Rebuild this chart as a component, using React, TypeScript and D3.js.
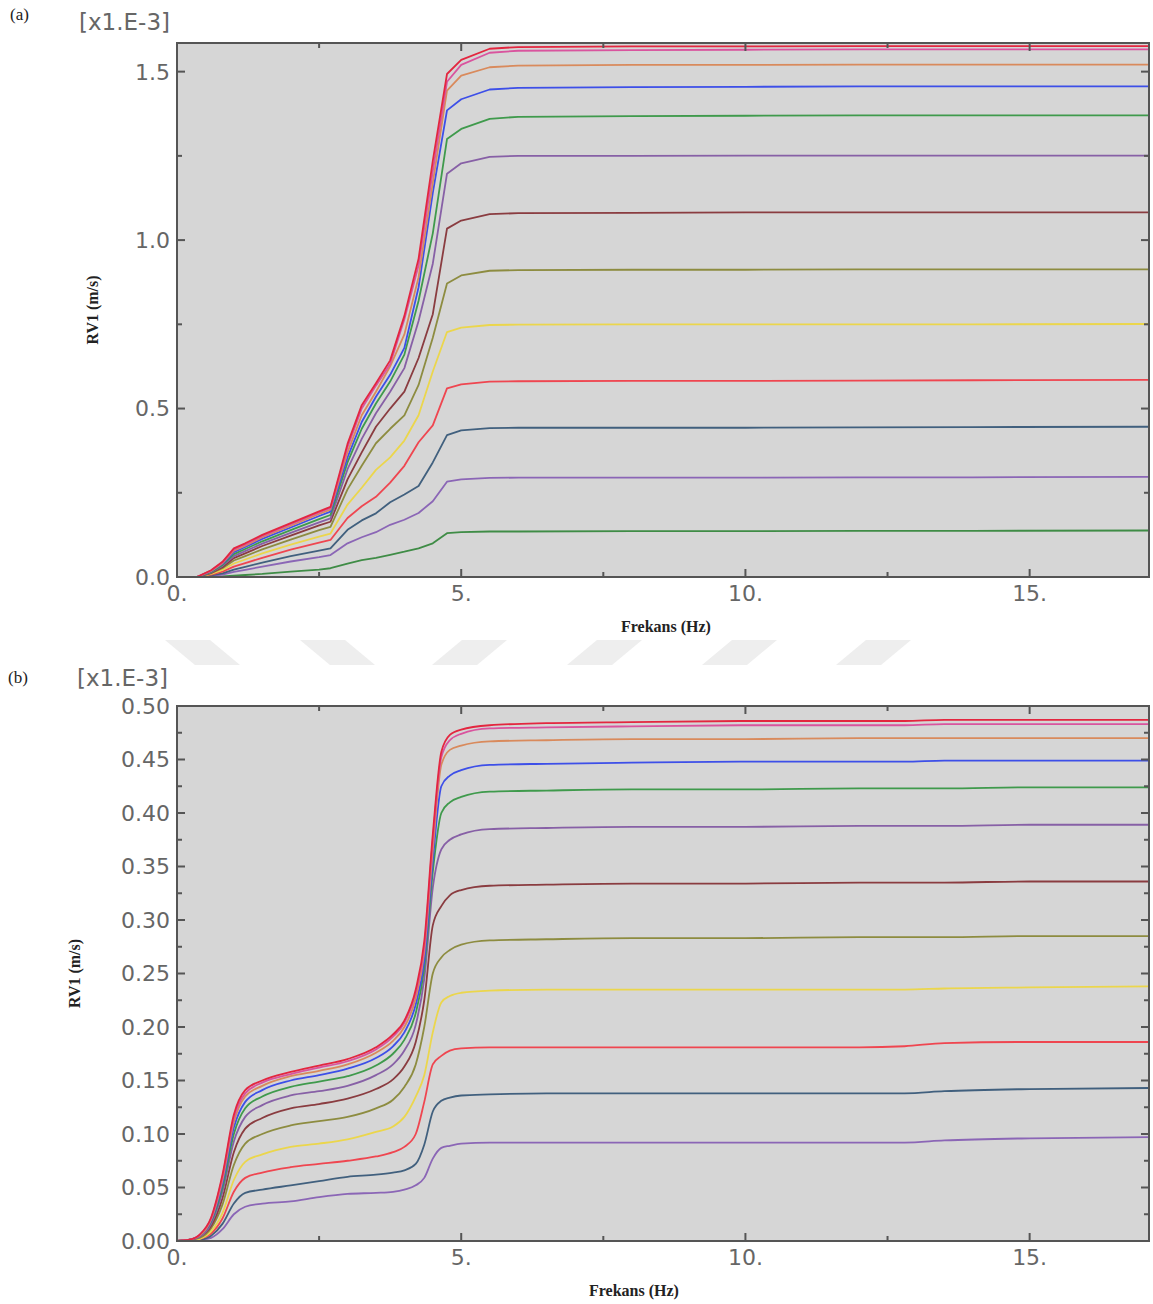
import React from 'react';
import * as d3 from 'd3';

const W = 1153;
const H = 1304;

// ---- panel (a) ----
const freqA = [0, 0.35, 0.6, 0.8, 1.0, 1.2, 1.5, 2.0, 2.5, 2.7, 3.0, 3.25, 3.5, 3.75, 4.0, 4.25, 4.5, 4.75, 5.0, 5.5, 6, 8, 10, 12, 14, 17.1];

const a1 = [0, 0, 0.02, 0.045, 0.085, 0.10, 0.125, 0.16, 0.195, 0.208, 0.395, 0.51, 0.575, 0.643, 0.775, 0.945, 1.235, 1.493, 1.535, 1.568, 1.573, 1.575, 1.575, 1.576, 1.576, 1.576];
const a2 = [0, 0, 0.019, 0.043, 0.082, 0.097, 0.122, 0.157, 0.192, 0.205, 0.385, 0.50, 0.568, 0.632, 0.765, 0.925, 1.205, 1.47, 1.52, 1.556, 1.562, 1.564, 1.565, 1.566, 1.566, 1.566];
const a3 = [0, 0, 0.018, 0.041, 0.078, 0.093, 0.118, 0.152, 0.187, 0.200, 0.37, 0.48, 0.55, 0.625, 0.72, 0.89, 1.17, 1.444, 1.488, 1.513, 1.518, 1.52, 1.52, 1.521, 1.521, 1.521];
const a4 = [0, 0, 0.017, 0.039, 0.074, 0.089, 0.113, 0.147, 0.181, 0.194, 0.355, 0.46, 0.535, 0.60, 0.68, 0.86, 1.14, 1.385, 1.418, 1.447, 1.452, 1.454, 1.455, 1.456, 1.456, 1.456];
const a5 = [0, 0, 0.015, 0.036, 0.068, 0.083, 0.106, 0.139, 0.172, 0.184, 0.34, 0.44, 0.515, 0.58, 0.66, 0.82, 1.02, 1.30, 1.33, 1.36, 1.366, 1.368, 1.369, 1.37, 1.37, 1.37];
const a6 = [0, 0, 0.014, 0.033, 0.062, 0.077, 0.099, 0.131, 0.162, 0.174, 0.32, 0.41, 0.486, 0.55, 0.62, 0.76, 0.93, 1.197, 1.228, 1.247, 1.25, 1.25, 1.251, 1.251, 1.251, 1.251];
const a7 = [0, 0, 0.012, 0.029, 0.056, 0.070, 0.092, 0.123, 0.153, 0.164, 0.29, 0.37, 0.446, 0.50, 0.55, 0.65, 0.78, 1.034, 1.058, 1.077, 1.08, 1.081, 1.082, 1.082, 1.082, 1.082];
const a8 = [0, 0, 0.011, 0.026, 0.049, 0.062, 0.082, 0.111, 0.139, 0.149, 0.26, 0.33, 0.397, 0.44, 0.48, 0.57, 0.71, 0.871, 0.895, 0.909, 0.911, 0.912, 0.912, 0.913, 0.913, 0.913];
const a9 = [0, 0, 0.009, 0.021, 0.040, 0.052, 0.070, 0.096, 0.120, 0.129, 0.215, 0.265, 0.318, 0.355, 0.405, 0.48, 0.61, 0.727, 0.74, 0.748, 0.749, 0.75, 0.75, 0.75, 0.75, 0.751];
const a10 = [0, 0, 0.007, 0.016, 0.031, 0.041, 0.057, 0.081, 0.102, 0.110, 0.175, 0.21, 0.238, 0.28, 0.33, 0.40, 0.45, 0.56, 0.572, 0.58, 0.581, 0.582, 0.582, 0.583, 0.584, 0.585];
const a11 = [0, 0, 0.005, 0.011, 0.022, 0.030, 0.043, 0.062, 0.078, 0.085, 0.14, 0.168, 0.189, 0.222, 0.245, 0.27, 0.34, 0.421, 0.435, 0.442, 0.443, 0.443, 0.443, 0.444, 0.445, 0.446];
const a12 = [0, 0, 0.003, 0.007, 0.015, 0.021, 0.031, 0.046, 0.059, 0.065, 0.10, 0.118, 0.133, 0.155, 0.17, 0.19, 0.225, 0.283, 0.29, 0.294, 0.295, 0.295, 0.295, 0.296, 0.296, 0.297];
const a13 = [0, 0, 0.001, 0.002, 0.004, 0.006, 0.009, 0.016, 0.022, 0.026, 0.04, 0.05, 0.057, 0.066, 0.075, 0.085, 0.10, 0.13, 0.133, 0.135, 0.135, 0.136, 0.136, 0.137, 0.137, 0.138];

// ---- panel (b) ----
const freqB = [0, 0.2, 0.4, 0.6, 0.8, 1.0, 1.2, 1.5, 2.0, 2.5, 3.0, 3.5, 3.8, 4.0, 4.2, 4.35, 4.5, 4.65, 4.8, 5.0, 5.5, 6.5, 8, 10, 12, 12.8, 13.5, 15, 17.1];

const b1 = [0, 0.001, 0.006, 0.022, 0.062, 0.118, 0.141, 0.150, 0.158, 0.164, 0.170, 0.181, 0.193, 0.206, 0.235, 0.28, 0.38, 0.457, 0.473, 0.478, 0.482, 0.484, 0.485, 0.486, 0.486, 0.486, 0.487, 0.487, 0.487];
const b2 = [0, 0.001, 0.006, 0.021, 0.060, 0.115, 0.138, 0.148, 0.156, 0.162, 0.168, 0.179, 0.191, 0.204, 0.232, 0.275, 0.375, 0.452, 0.468, 0.474, 0.479, 0.480, 0.481, 0.482, 0.482, 0.482, 0.483, 0.483, 0.483];
const b3 = [0, 0.001, 0.005, 0.020, 0.057, 0.111, 0.135, 0.145, 0.154, 0.159, 0.165, 0.176, 0.187, 0.200, 0.227, 0.27, 0.365, 0.445, 0.459, 0.463, 0.467, 0.468, 0.469, 0.469, 0.470, 0.470, 0.470, 0.470, 0.470];
const b4 = [0, 0.001, 0.005, 0.019, 0.054, 0.106, 0.130, 0.141, 0.150, 0.155, 0.161, 0.171, 0.182, 0.195, 0.221, 0.262, 0.355, 0.425, 0.435, 0.440, 0.445, 0.446, 0.447, 0.448, 0.448, 0.448, 0.449, 0.449, 0.449];
const b5 = [0, 0.001, 0.005, 0.018, 0.050, 0.100, 0.124, 0.135, 0.144, 0.149, 0.154, 0.164, 0.175, 0.188, 0.213, 0.255, 0.345, 0.400, 0.410, 0.415, 0.420, 0.421, 0.422, 0.422, 0.423, 0.423, 0.423, 0.424, 0.424];
const b6 = [0, 0.001, 0.004, 0.016, 0.046, 0.093, 0.116, 0.127, 0.136, 0.140, 0.145, 0.155, 0.165, 0.178, 0.202, 0.245, 0.330, 0.366, 0.375, 0.380, 0.385, 0.386, 0.387, 0.387, 0.388, 0.388, 0.388, 0.389, 0.389];
const b7 = [0, 0.001, 0.004, 0.014, 0.040, 0.083, 0.105, 0.115, 0.124, 0.128, 0.133, 0.142, 0.151, 0.163, 0.186, 0.225, 0.295, 0.313, 0.323, 0.328, 0.332, 0.333, 0.334, 0.334, 0.335, 0.335, 0.335, 0.336, 0.336];
const b8 = [0, 0.001, 0.003, 0.012, 0.034, 0.071, 0.091, 0.100, 0.108, 0.112, 0.116, 0.124, 0.132, 0.144, 0.165, 0.200, 0.250, 0.265, 0.272, 0.277, 0.281, 0.282, 0.283, 0.283, 0.284, 0.284, 0.284, 0.285, 0.285];
const b9 = [0, 0, 0.002, 0.009, 0.026, 0.057, 0.074, 0.081, 0.088, 0.091, 0.095, 0.102, 0.107, 0.116, 0.135, 0.155, 0.195, 0.223, 0.229, 0.232, 0.234, 0.235, 0.235, 0.235, 0.235, 0.235, 0.236, 0.237, 0.238];
const b10 = [0, 0, 0.002, 0.007, 0.021, 0.046, 0.059, 0.064, 0.069, 0.072, 0.075, 0.079, 0.083, 0.088, 0.100, 0.130, 0.165, 0.173, 0.178, 0.180, 0.181, 0.181, 0.181, 0.181, 0.181, 0.182, 0.185, 0.186, 0.186];
const b11 = [0, 0, 0.001, 0.005, 0.016, 0.035, 0.045, 0.048, 0.052, 0.056, 0.060, 0.062, 0.064, 0.066, 0.072, 0.090, 0.121, 0.131, 0.134, 0.136, 0.137, 0.138, 0.138, 0.138, 0.138, 0.138, 0.140, 0.142, 0.143];
const b12 = [0, 0, 0.001, 0.003, 0.011, 0.025, 0.032, 0.035, 0.037, 0.041, 0.044, 0.045, 0.046, 0.048, 0.052, 0.059, 0.077, 0.087, 0.089, 0.091, 0.092, 0.092, 0.092, 0.092, 0.092, 0.092, 0.094, 0.096, 0.097];

const seriesColors = ['#e3263f', '#d9549e', '#d98a5c', '#3d4fe8', '#3f9a4c', '#8760a6', '#8a3c40', '#8d8c40', '#ebd64c', '#ef4650', '#41607e', '#8b66b6', '#3f8c46'];

const xMajor = [0, 5, 10, 15];
const xMinor = [2.5, 7.5, 12.5];
const xLabels = ['0.', '5.', '10.', '15.'];

const yMajorA = [0, 0.5, 1.0, 1.5];
const yMinorA = [0.25, 0.75, 1.25];
const yLabelsA = ['0.0', '0.5', '1.0', '1.5'];

const yMajorB = [0, 0.05, 0.1, 0.15, 0.2, 0.25, 0.3, 0.35, 0.4, 0.45, 0.5];
const yMinorB = [0.025, 0.075, 0.125, 0.175, 0.225, 0.275, 0.325, 0.375, 0.425, 0.475];
const yLabelsB = ['0.00', '0.05', '0.10', '0.15', '0.20', '0.25', '0.30', '0.35', '0.40', '0.45', '0.50'];

const tickFont = "'DejaVu Sans', Verdana, sans-serif";
const serif = "'Liberation Serif', 'Times New Roman', serif";

const LEFT = 177;
const RIGHT = 1149;

type PanelProps = {
  id: string;
  letter: string;
  top: number;
  bottom: number;
  yMax: number;
  freq: number[];
  series: number[][];
  curve: d3.CurveFactory;
  yMajor: number[];
  yMinor: number[];
  yLabels: string[];
  yTitleX: number;
  xTitleX: number;
  letterY: number;
  expX: number;
  expY: number;
};

function Panel(p: PanelProps) {
  const x = d3.scaleLinear().domain([0, 17.1]).range([LEFT, RIGHT]);
  const y = d3.scaleLinear().domain([0, p.yMax]).range([p.bottom, p.top]);
  const line = d3.line<number>()
    .x((_, i) => x(p.freq[i]))
    .y(d => y(d))
    .curve(p.curve);

  const major = 8;
  const minor = 5;
  const tickStroke = '#555';

  return (
    <g>
      <defs>
        <clipPath id={`clip-${p.id}`}>
          <rect x={LEFT} y={p.top} width={RIGHT - LEFT} height={p.bottom - p.top} />
        </clipPath>
      </defs>
      <text x={p.id === 'a' ? 10 : 8} y={p.letterY} fontFamily={serif} fontSize={17} fill="#222">{p.letter}</text>
      <text x={p.expX} y={p.expY} textAnchor="end" fontFamily={tickFont} fontSize={23} fill="#666">[x1.E-3]</text>

      <rect x={LEFT} y={p.top} width={RIGHT - LEFT} height={p.bottom - p.top} fill="#d6d6d6" />

      <g clipPath={`url(#clip-${p.id})`}>
        {p.series.map((s, i) => ({ s, i })).reverse().map(({ s, i }) => (
          <path key={i} d={line(s) || ''} fill="none" stroke={seriesColors[i]} strokeWidth={1.8} strokeLinejoin="round" />
        ))}
      </g>

      {/* ticks, mirrored on all four sides */}
      {xMajor.map(v => (
        <g key={`xm${v}`}>
          <line x1={x(v)} x2={x(v)} y1={p.bottom} y2={p.bottom - major} stroke={tickStroke} strokeWidth={2} />
          <line x1={x(v)} x2={x(v)} y1={p.top} y2={p.top + major} stroke={tickStroke} strokeWidth={2} />
        </g>
      ))}
      {xMinor.map(v => (
        <g key={`xn${v}`}>
          <line x1={x(v)} x2={x(v)} y1={p.bottom} y2={p.bottom - minor} stroke={tickStroke} strokeWidth={2} />
          <line x1={x(v)} x2={x(v)} y1={p.top} y2={p.top + minor} stroke={tickStroke} strokeWidth={2} />
        </g>
      ))}
      {p.yMajor.map(v => (
        <g key={`ym${v}`}>
          <line x1={LEFT} x2={LEFT + major} y1={y(v)} y2={y(v)} stroke={tickStroke} strokeWidth={2} />
          <line x1={RIGHT} x2={RIGHT - major} y1={y(v)} y2={y(v)} stroke={tickStroke} strokeWidth={2} />
        </g>
      ))}
      {p.yMinor.map(v => (
        <g key={`yn${v}`}>
          <line x1={LEFT} x2={LEFT + minor} y1={y(v)} y2={y(v)} stroke={tickStroke} strokeWidth={2} />
          <line x1={RIGHT} x2={RIGHT - minor} y1={y(v)} y2={y(v)} stroke={tickStroke} strokeWidth={2} />
        </g>
      ))}

      <rect x={LEFT} y={p.top} width={RIGHT - LEFT} height={p.bottom - p.top} fill="none" stroke="#555" strokeWidth={2} />

      {/* tick labels */}
      {p.yMajor.map((v, i) => (
        <text key={`yl${v}`} x={170} y={y(v)} dy="0.36em" textAnchor="end" fontFamily={tickFont} fontSize={22} fill="#666">{p.yLabels[i]}</text>
      ))}
      {xMajor.map((v, i) => (
        <text key={`xl${v}`} x={x(v)} y={p.bottom + 24} textAnchor="middle" fontFamily={tickFont} fontSize={22} fill="#666">{xLabels[i]}</text>
      ))}

      {/* axis titles */}
      <text transform={`translate(${p.yTitleX},${(p.top + p.bottom) / 2}) rotate(-90)`} textAnchor="middle" fontFamily={serif} fontWeight="bold" fontSize={16} fill="#222">RV1 (m/s)</text>
      <text x={p.xTitleX} y={p.bottom + 55} textAnchor="middle" fontFamily={serif} fontWeight="bold" fontSize={16} fill="#222">Frekans (Hz)</text>
    </g>
  );
}

// faint watermark stripes between the panels
const stripes = [
  { x: 165, dir: -1 }, { x: 300, dir: -1 },
  { x: 432, dir: 1 }, { x: 567, dir: 1 }, { x: 702, dir: 1 }, { x: 836, dir: 1 },
];

export default function App() {
  return (
    <svg width={W} height={H} style={{ position: 'absolute', left: 0, top: 0, background: '#fff' }}>
      {stripes.map((s, i) => {
        const y0 = 640, y1 = 665, w = 45, sl = 30;
        const pts = s.dir < 0
          ? [[s.x, y0], [s.x + w, y0], [s.x + w + sl, y1], [s.x + sl, y1]]
          : [[s.x + sl, y0], [s.x + sl + w, y0], [s.x + w, y1], [s.x, y1]];
        return <polygon key={i} points={pts.map(q => q.join(',')).join(' ')} fill="#eeeeee" />;
      })}
      <Panel id="a" letter="(a)" top={43} bottom={577} yMax={1.585} freq={freqA}
        series={[a1, a2, a3, a4, a5, a6, a7, a8, a9, a10, a11, a12, a13]} curve={d3.curveLinear}
        yMajor={yMajorA} yMinor={yMinorA} yLabels={yLabelsA} yTitleX={98} xTitleX={666}
        letterY={20} expX={170} expY={30} />
      <Panel id="b" letter="(b)" top={706} bottom={1241} yMax={0.5} freq={freqB}
        series={[b1, b2, b3, b4, b5, b6, b7, b8, b9, b10, b11, b12]} curve={d3.curveMonotoneX}
        yMajor={yMajorB} yMinor={yMinorB} yLabels={yLabelsB} yTitleX={80} xTitleX={634}
        letterY={683} expX={168} expY={686} />
    </svg>
  );
}
